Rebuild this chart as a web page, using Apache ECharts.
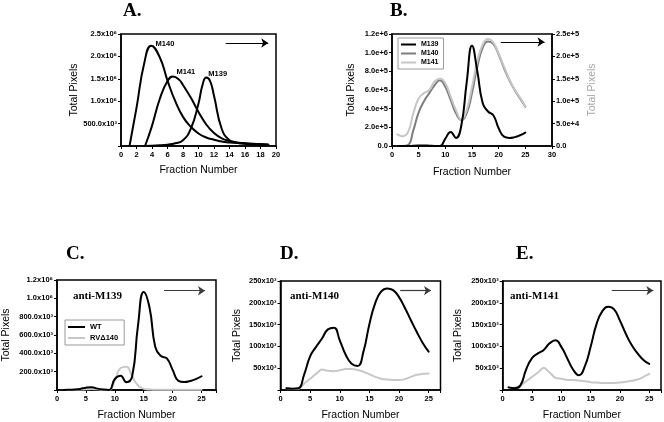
<!DOCTYPE html>
<html><head><meta charset="utf-8">
<script src="https://cdn.jsdelivr.net/npm/echarts@6/dist/echarts.min.js"></script>
<style>html,body{margin:0;padding:0;background:#fff}#c{width:664px;height:422px}</style>
</head><body><div id="c"></div>
<script>
// ---------- Panel A ----------
const fracA_M140 = [1.1, 2, 3, 3.9, 5, 6, 7, 8, 9, 10, 11, 12, 13, 14, 15, 16, 17, 18, 19];
const valA_M140  = [0, 850000, 1850000, 2240000, 1980000, 1460000, 1000000, 650000, 430000, 280000, 190000, 140000, 100000, 80000, 65000, 55000, 45000, 38000, 30000];
const fracA_M141 = [3.1, 4, 5, 6, 6.7, 7.5, 8, 9, 10, 11, 12, 13, 14, 15, 16, 17, 18, 19];
const valA_M141  = [0, 450000, 1050000, 1450000, 1550000, 1480000, 1360000, 1080000, 760000, 480000, 290000, 170000, 110000, 80000, 60000, 50000, 40000, 30000];
const fracA_M139 = [3, 5, 6, 7, 8, 9, 10, 10.5, 11, 11.5, 12, 13, 14, 15, 16, 17, 18, 19];
const valA_M139  = [0, 15000, 30000, 60000, 130000, 380000, 950000, 1350000, 1530000, 1450000, 1120000, 380000, 130000, 70000, 50000, 40000, 35000, 30000];
const labelsA = ['M140', 'M141', 'M139'];

// ---------- Panel B ----------
const fracB = [1,2,3,4,5,6,7,8,9,10,11,12,13,14,15,16,17,18,19,20,21,22,23,24,25];
const valB_M139 = [0,0,0,3000,5000,6000,4000,0,0,80000,150000,86000,220000,680000,1074000,800000,460000,370000,330000,190000,100000,86000,95000,115000,144000];
const valB_M140 = [0,0,2000,35000,75000,100000,118000,136000,147000,132000,103000,73000,58000,73000,118000,177000,219000,233000,228000,204000,174000,147000,125000,106000,88000];
const valB_M141 = [26000,22000,31000,73000,106000,118000,125000,144000,150000,140000,110000,80000,59000,80000,132000,189000,226000,239000,231000,206000,177000,149000,126000,108000,89000];

// ---------- Panels C, D, E ----------
const fracCDE = [1,2,3,4,5,6,7,8,9,10,11,12,13,14,15,16,17,18,19,20,21,22,23,24,25];
const valC_WT   = [0,2000,5000,12000,25000,30000,15000,5000,0,120000,155000,85000,150000,700000,1070000,900000,470000,370000,345000,220000,100000,88000,98000,118000,150000];
const valC_RV   = [0,0,3000,5000,8000,10000,8000,3000,0,100000,240000,255000,150000,50000,12000,5000,3000,2000,2000,2000,2000,2000,2000,2000,2000];
const valD_WT   = [4000,3000,4000,36000,77000,99000,118000,139000,143000,114000,81000,60000,55000,88000,151000,200000,226000,233000,229000,213000,188000,160000,133000,108000,88000];
const valD_RV   = [4000,3000,3000,15000,26000,37000,47000,44000,43000,45000,48000,48000,46000,42000,36000,30000,26000,24000,23000,23000,25000,30000,35000,37000,38000];
const valE_WT   = [6000,4000,10000,47000,73000,84000,92000,107000,114000,99000,73000,47000,34000,54000,99000,151000,181000,191000,185000,159000,129000,103000,84000,69000,60000];
const valE_RV   = [6000,5000,10000,20000,30000,40000,51000,40000,28000,26000,23000,23000,22000,20000,18000,17000,16000,16000,16000,17000,19000,21000,24000,30000,37000];

const panelTitles = ['A.', 'B.', 'C.', 'D.', 'E.'];
const antibodyLabels = ['anti-M139', 'anti-M140', 'anti-M141'];

// arrow annotations [x0, x1, y] in data units
const arrowA = [13.5, 19.0, 2300000];
const arrowB = [20.4, 28.6, 1114000];
const arrowC = [18.5, 25.6, 1083000];
const arrowD = [20.2, 25.4, 228000];
const arrowE = [18.6, 25.7, 228000];

const BLACK = '#000000', GRAY_MED = '#7d7d7d', GRAY_LIGHT = '#c6c6c6', GRAY_CDE = '#c8c8c8';
const SANS = 'Liberation Sans', SERIF = 'Liberation Serif';

const xy = (xs, ys) => xs.map((x, i) => [x, ys[i]]);
const sup3 = '\u00B3', sup6 = '\u2076';
const fmtX10 = v => v === 0 ? '' : (v < 1e6 ? (v / 1e3).toFixed(1) + 'x10' + sup3 : (v / 1e6).toFixed(1) + 'x10' + sup6);
const fmtK = v => v === 0 ? '' : (v / 1e3) + 'x10' + sup3;
const fmtE = v => { if (v === 0) return '0.0'; const e = Math.floor(Math.log10(v) + 1e-9); return (v / Math.pow(10, e)).toFixed(1) + 'e+' + e; };

const axisLine = { show: true, onZero: false, lineStyle: { color: '#000', width: 1.5 } };
const axisTick = { show: true, length: 3, inside: false, lineStyle: { color: '#000', width: 1 } };
const tickFont = { fontFamily: SANS, fontWeight: 'bold', fontSize: 7.5, color: '#000' };

function xAx(grid, max, interval, gap, step) {
  return {
    type: 'value', gridIndex: grid, min: 0, max: max, interval: interval,
    name: 'Fraction Number', nameLocation: 'middle', nameGap: gap,
    nameTextStyle: { fontFamily: SANS, fontSize: 10.5, color: '#000' },
    axisLine: axisLine, axisTick: axisTick, splitLine: { show: false },
    axisLabel: Object.assign({ margin: 5, formatter: v => (v % step === 0 ? String(v) : '') }, tickFont)
  };
}
function yAx(grid, max, interval, fmt, gap, pos, nameColor) {
  return {
    type: 'value', gridIndex: grid, min: 0, max: max, interval: interval, position: pos || 'left',
    name: 'Total Pixels', nameLocation: 'middle', nameGap: gap,
    nameTextStyle: { fontFamily: SANS, fontSize: 10.5, color: nameColor || '#000' },
    axisLine: axisLine, axisTick: axisTick, splitLine: { show: false },
    axisLabel: Object.assign({ margin: 4, formatter: fmt }, tickFont)
  };
}
function line(name, xi, yi, data, color, smooth, extra) {
  return Object.assign({
    type: 'line', name: name, xAxisIndex: xi, yAxisIndex: yi, data: data,
    symbol: 'none', showSymbol: false, smooth: smooth,
    lineStyle: { color: color, width: 2, cap: 'round', join: 'round' }, itemStyle: { color: color },
    animation: false, silent: true
  }, extra || {});
}
function arrow(a, color) {
  return {
    silent: true, symbol: ['none', 'arrow'], symbolSize: 7, animation: false, precision: 4,
    lineStyle: { color: color, width: 1.2, type: 'solid' }, label: { show: false },
    itemStyle: { color: color },
    emphasis: { disabled: true },
    data: [[{ coord: [a[0], a[2]] }, { coord: [a[1], a[2]] }]]
  };
}
function tag(x, y, text) {
  return { coord: [x, y], name: text, value: text };
}
const tagStyle = {
  symbol: 'circle', symbolSize: 1, itemStyle: { color: 'rgba(0,0,0,0)' }, silent: true, animation: false,
  label: { show: true, position: 'right', distance: 0, formatter: '{b}', fontFamily: SANS, fontWeight: 'bold', fontSize: 7.5, color: '#000' }
};

const grids = [
  { left: 121, top: 34, width: 155, height: 112 },
  { left: 392, top: 34, width: 160, height: 112 },
  { left: 54,  top: 280, width: 162, height: 113 },
  { left: 280.5, top: 281, width: 160, height: 112 },
  { left: 502.7, top: 281, width: 160, height: 112 }
].map(g => Object.assign({ show: true, borderColor: '#000', borderWidth: 1.5, backgroundColor: 'transparent', containLabel: false }, g));

const option = {
  backgroundColor: '#fff',
  animation: false,
  grid: grids,
  xAxis: [
    xAx(0, 20, 2, 19, 2),
    xAx(1, 30, 5, 21, 5),
    xAx(2, 27.5, 5, 20, 5),
    xAx(3, 27, 5, 20, 5),
    xAx(4, 27, 5, 20, 5)
  ],
  yAxis: [
    yAx(0, 2500000, 500000, fmtX10, 38),
    yAx(1, 1200000, 200000, fmtE, 35),
    yAx(1, 250000, 50000, fmtE, 35, 'right', '#a8a8a8'),
    yAx(2, 1200000, 200000, fmtX10, 45),
    yAx(3, 250000, 50000, fmtK, 38),
    yAx(4, 250000, 50000, fmtK, 39)
  ],
  legend: [
    { data: ['M139', 'M140', 'M141'], left: 398, top: 38, orient: 'vertical', icon: 'rect',
      itemWidth: 15, itemHeight: 2, itemGap: 2, padding: [3, 5, 3, 3], borderColor: '#999', borderWidth: 1,
      selectedMode: false, textStyle: { fontFamily: SANS, fontWeight: 'bold', fontSize: 7, color: '#000' } },
    { data: ['WT', 'RV\u0394140'], left: 65, top: 320, orient: 'vertical', icon: 'rect',
      itemWidth: 17, itemHeight: 2, itemGap: 3, padding: [3, 6, 3, 3], borderColor: '#999', borderWidth: 1,
      selectedMode: false, textStyle: { fontFamily: SANS, fontWeight: 'bold', fontSize: 7.5, color: '#000' } }
  ],
  series: [
    // B
    line('M140', 1, 2, xy(fracB, valB_M140), GRAY_MED, 0.5),
    line('M141', 1, 2, xy(fracB, valB_M141), GRAY_LIGHT, 0.5),
    line('M139', 1, 1, xy(fracB, valB_M139), BLACK, 0.5, { markLine: arrow(arrowB, '#000') }),
    // C
    line('WT', 2, 3, xy(fracCDE, valC_WT), BLACK, 0.5, { z: 3, markLine: arrow(arrowC, '#3a3a3a') }),
    line('RV\u0394140', 2, 3, xy(fracCDE, valC_RV), GRAY_CDE, 0.5, { z: 2 }),
    // A
    line('M140 (A)', 0, 0, xy(fracA_M140, valA_M140), BLACK, 0.5, {
      markLine: arrow(arrowA, '#000'),
      markPoint: Object.assign({ data: [tag(4.4, 2280000, labelsA[0]), tag(7.1, 1650000, labelsA[1]), tag(11.2, 1610000, labelsA[2])] }, tagStyle)
    }),
    line('M141 (A)', 0, 0, xy(fracA_M141, valA_M141), BLACK, 0.5),
    line('M139 (A)', 0, 0, xy(fracA_M139, valA_M139), BLACK, 0.5),
    // D
    line('RV\u0394140', 3, 4, xy(fracCDE, valD_RV), GRAY_CDE, 0.3, { z: 2 }),
    line('WT', 3, 4, xy(fracCDE, valD_WT), BLACK, 0.5, { z: 3, markLine: arrow(arrowD, '#3a3a3a') }),
    // E
    line('RV\u0394140', 4, 5, xy(fracCDE, valE_RV), GRAY_CDE, 0.3, { z: 2 }),
    line('WT', 4, 5, xy(fracCDE, valE_WT), BLACK, 0.5, { z: 3, markLine: arrow(arrowE, '#3a3a3a') })
  ],
  graphic: [
    { type: 'text', left: 123, top: 2, style: { text: panelTitles[0], font: 'bold 19px "Liberation Serif"', fill: '#000' } },
    { type: 'text', left: 390, top: 2, style: { text: panelTitles[1], font: 'bold 19px "Liberation Serif"', fill: '#000' } },
    { type: 'text', left: 66, top: 245, style: { text: panelTitles[2], font: 'bold 19px "Liberation Serif"', fill: '#000' } },
    { type: 'text', left: 280, top: 245, style: { text: panelTitles[3], font: 'bold 19px "Liberation Serif"', fill: '#000' } },
    { type: 'text', left: 516, top: 245, style: { text: panelTitles[4], font: 'bold 19px "Liberation Serif"', fill: '#000' } },
    { type: 'text', left: 73, top: 291, style: { text: antibodyLabels[0], font: 'bold 11px "Liberation Serif"', fill: '#000' } },
    { type: 'text', left: 290, top: 291, style: { text: antibodyLabels[1], font: 'bold 11px "Liberation Serif"', fill: '#000' } },
    { type: 'text', left: 510, top: 291, style: { text: antibodyLabels[2], font: 'bold 11px "Liberation Serif"', fill: '#000' } }
  ]
};

const chart = echarts.init(document.getElementById('c'), null, { renderer: 'canvas' });
chart.setOption(option);
</script>
</body></html>
